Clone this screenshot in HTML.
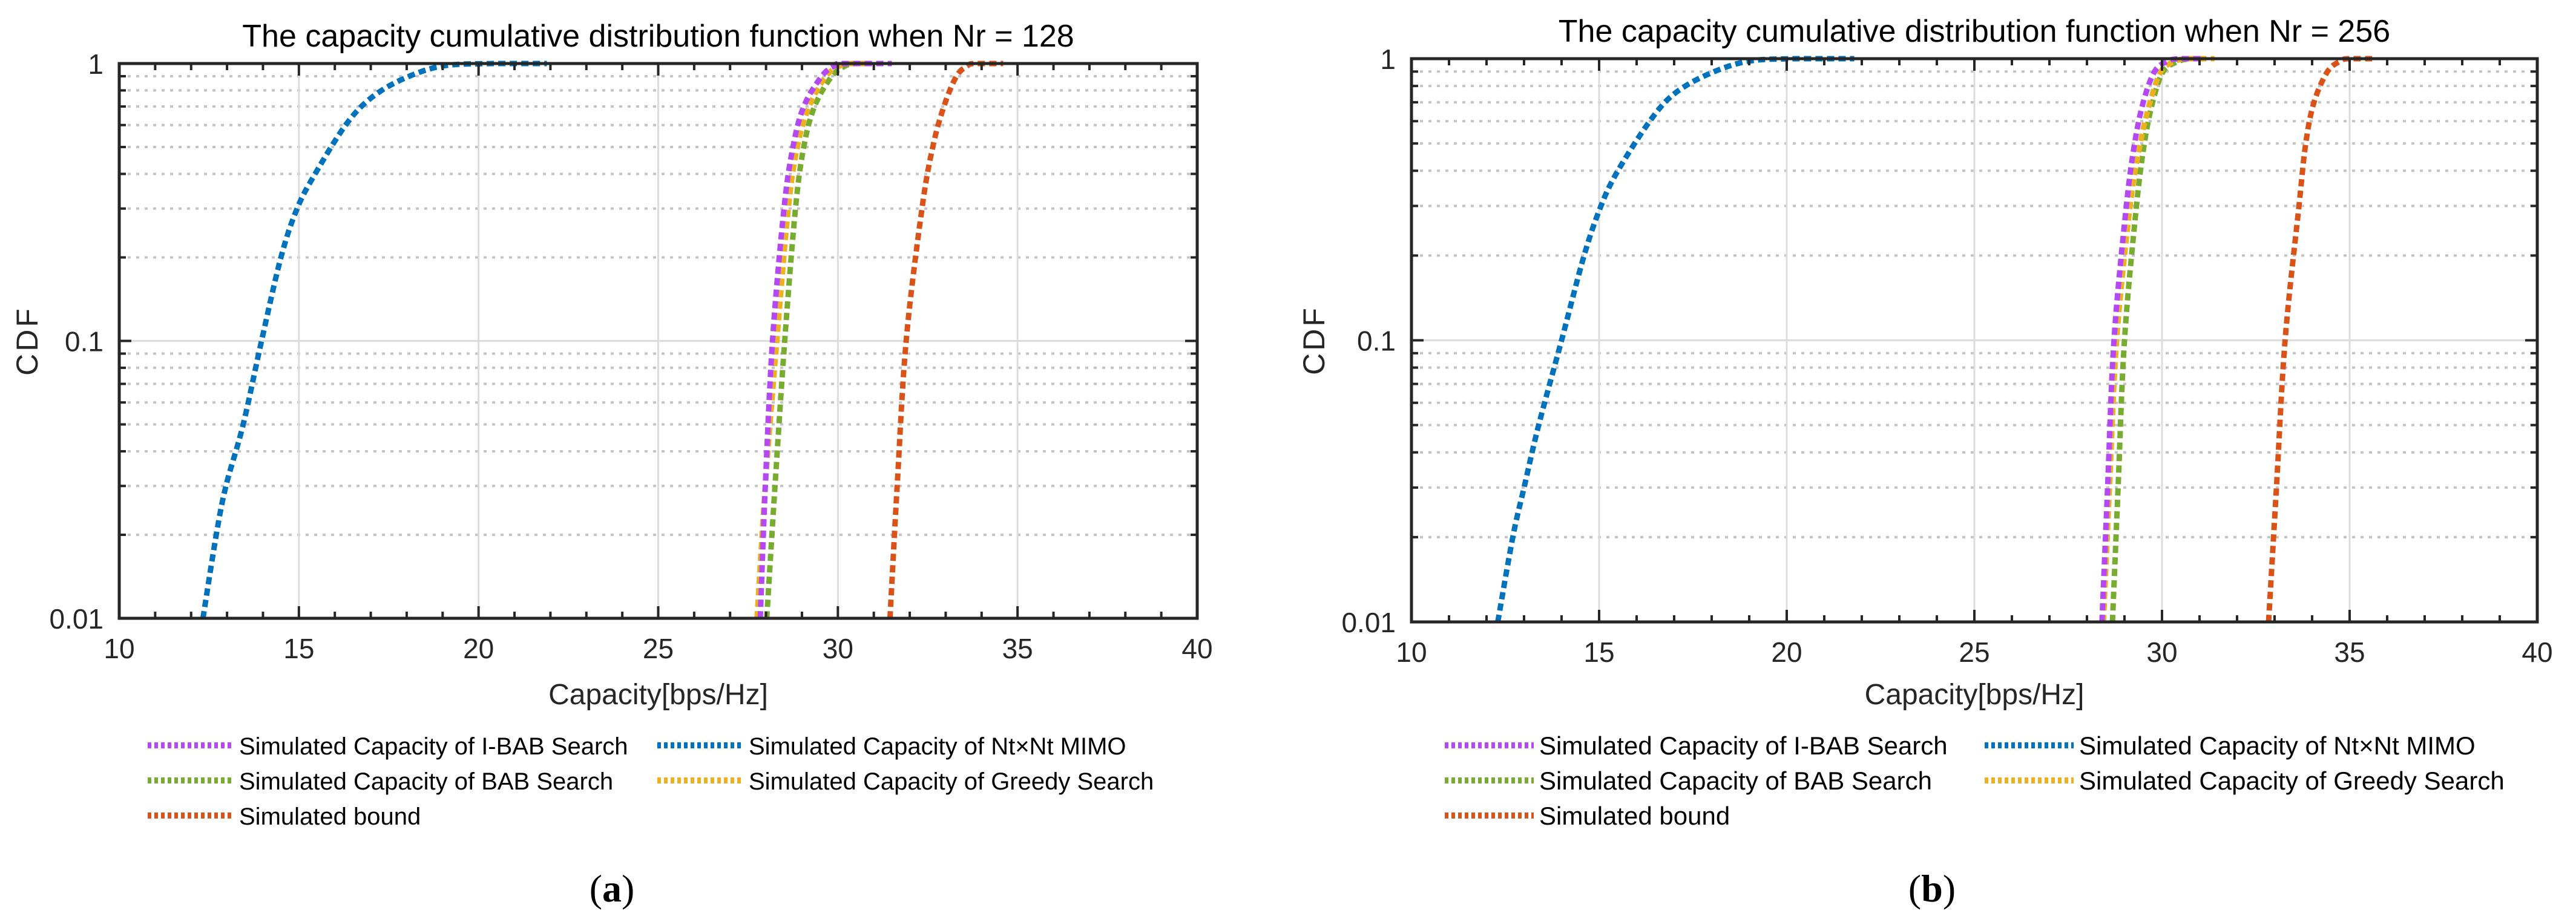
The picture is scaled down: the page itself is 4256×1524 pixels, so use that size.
<!DOCTYPE html>
<html><head><meta charset="utf-8"><style>
html,body{margin:0;padding:0;background:#fff;}
svg{display:block;font-family:"Liberation Sans",Arial,sans-serif;}
</style></head><body>
<svg id="fig" width="4256" height="1524" viewBox="0 0 4256 1524" xmlns="http://www.w3.org/2000/svg">
<rect width="4256" height="1524" fill="#fff"/>
</svg>
<script>
// ---- data ----
const xTicks = [10, 15, 20, 25, 30, 35, 40];
const yTickLabels = ["0.01", "0.1", "1"];
const yTickValues = [0.01, 0.1, 1];
const narrowLevels = [0.01, 0.03, 0.1, 0.3, 0.5, 0.7, 0.9, 0.98, 1, 1];
const blueLevels = [0.01, 0.02, 0.03, 0.05, 0.1, 0.2, 0.3, 0.4, 0.6, 0.75, 0.88, 0.98, 1, 1];
const seriesNames = ["Simulated Capacity of I-BAB Search", "Simulated Capacity of Nt\u00d7Nt MIMO", "Simulated Capacity of BAB Search", "Simulated Capacity of Greedy Search", "Simulated bound"];
// panel (a) Nr = 128
const aIBAB = [27.84, 27.98, 28.18, 28.5, 28.75, 29.05, 29.55, 29.9, 30.12, 31.5];
const aGreedy = [27.75, 27.98, 28.3, 28.62, 28.87, 29.2, 29.67, 30.05, 30.35, 30.9];
const aBAB = [28.02, 28.25, 28.52, 28.82, 29.05, 29.35, 29.83, 30.2, 30.47, 30.7];
const aBound = [31.45, 31.65, 31.9, 32.34, 32.64, 32.95, 33.3, 33.6, 33.8, 34.6];
const aMIMO = [12.33, 12.7, 12.97, 13.45, 13.96, 14.5, 14.95, 15.45, 16.3, 17.0, 17.9, 19.0, 20.4, 21.9];
// panel (b) Nr = 256
const bIBAB = [28.4, 28.55, 28.72, 29.05, 29.27, 29.5, 29.8, 30.15, 30.47, 31.1];
const bGreedy = [28.44, 28.6, 28.79, 29.15, 29.42, 29.68, 29.97, 30.35, 30.7, 31.4];
const bBAB = [28.68, 28.83, 29.0, 29.32, 29.53, 29.75, 30.03, 30.45, 30.8, 31.0];
const bBound = [32.84, 33.05, 33.28, 33.65, 33.83, 34.05, 34.41, 34.75, 34.96, 35.6];
const bMIMO = [12.3, 12.7, 13.0, 13.39, 14.0, 14.6, 15.05, 15.5, 16.35, 17.0, 17.9, 18.98, 20.3, 21.8];

const COLORS = {ibab:"#B548F5", mimo:"#0072BD", bab:"#77AC30", greedy:"#EDB120", bound:"#D95319"};
const NS = "http://www.w3.org/2000/svg";
const svg = document.getElementById('fig');
function mk(tag, attrs, parent) {
  const e = document.createElementNS(NS, tag);
  for (const k in attrs) e.setAttribute(k, attrs[k]);
  (parent || svg).appendChild(e);
  return e;
}

function panel(cfg) {
  const g = mk('g', {});
  
  
  const L = cfg.L, R = cfg.R, T = cfg.T, B = cfg.B;
  const xs = v => L + (v - 10) / 30 * (R - L);
  const ys = v => B - (Math.log10(v) + 2) / 2 * (B - T);

  for (let d = 0; d < 2; d++) {
    for (let m = 2; m <= 9; m++) {
      const y = ys(m * Math.pow(10, d - 2));
      const l = mk('line', {x1: L, x2: R, y1: y, y2: y, stroke: "#c4c4c4", "stroke-width": 4, "stroke-dasharray": "5 9"}, g);
      
      
    }
  }
  xTicks.slice(1, -1).forEach(v => {
    const l = mk('line', {x1: xs(v), x2: xs(v), y1: T, y2: B, stroke: "#dcdcdc", "stroke-width": 3}, g);
    
    
  });
  {
    const l = mk('line', {x1: L, x2: R, y1: ys(0.1), y2: ys(0.1), stroke: "#dcdcdc", "stroke-width": 3}, g);
    
    
  }

  const series = [
    {k:'bound', d: cfg.bound, lv: narrowLevels},
    {k:'mimo', d: cfg.mimo, lv: blueLevels},
    {k:'bab', d: cfg.bab, lv: narrowLevels},
    {k:'greedy', d: cfg.greedy, lv: narrowLevels},
    {k:'ibab', d: cfg.ibab, lv: narrowLevels}
  ];
  series.forEach(s => {
    const pts = s.d.map((v, i) => [xs(v), ys(s.lv[i])]);
    let dstr = "M" + pts[0][0] + "," + pts[0][1];
    const n = pts.length;
    for (let i = 0; i < n - 1; i++) {
      const p0 = pts[Math.max(0, i - 1)], p1 = pts[i], p2 = pts[i + 1], p3 = pts[Math.min(n - 1, i + 2)];
      const t = (i >= n - 2) ? 0 : 1/6;
      const c1 = [p1[0] + (p2[0] - p0[0]) * t, p1[1] + (p2[1] - p0[1]) * t];
      const c2 = [p2[0] - (p3[0] - p1[0]) * t, Math.max(Math.min(p2[1] - (p3[1] - p1[1]) * t, B), T)];
      dstr += " C" + c1[0] + "," + Math.max(c1[1], T) + " " + c2[0] + "," + c2[1] + " " + p2[0] + "," + p2[1];
    }
    const p = mk('path', {d: dstr, fill: "none", stroke: COLORS[s.k], "stroke-width": 9, "stroke-dasharray": "12 7"}, g);
    
    
  });

  for (let v = 10; v <= 40; v++) {
    const len = (v % 5 === 0) ? 20 : 11;
    const x = xs(v);
    mk('line', {x1: x, x2: x, y1: B, y2: B - len, stroke: "#262626", "stroke-width": 4}, g);
    mk('line', {x1: x, x2: x, y1: T, y2: T + len, stroke: "#262626", "stroke-width": 4}, g);
  }
  for (let d = 0; d < 2; d++) {
    for (let m = 1; m <= 9; m++) {
      const y = ys(m * Math.pow(10, d - 2));
      const len = m === 1 ? 20 : 11;
      mk('line', {x1: L, x2: L + len, y1: y, y2: y, stroke: "#262626", "stroke-width": 4}, g);
      mk('line', {x1: R, x2: R - len, y1: y, y2: y, stroke: "#262626", "stroke-width": 4}, g);
    }
  }
  const box = mk('rect', {x: L, y: T, width: R - L, height: B - T, fill: "none", stroke: "#262626", "stroke-width": 5}, g);
  
  

  xTicks.forEach(v => {
    const t = mk('text', {x: xs(v), y: B + 66, "font-size": 46, fill: "#262626", "text-anchor": "middle"}, g);
    t.textContent = v;
    
    
  });
  yTickValues.forEach((v, i) => {
    const t = mk('text', {x: L - 26, y: ys(v) + 17, "font-size": 46, fill: "#262626", "text-anchor": "end"}, g);
    t.textContent = yTickLabels[i];
    
    
  });
  const tt = mk('text', {x: (L + R) / 2, y: T - 28, "font-size": 52, fill: "#000", "text-anchor": "middle"}, g);
  tt.textContent = cfg.title;
  
  
  const xt = mk('text', {x: (L + R) / 2, y: 1164, "font-size": 48, fill: "#262626", "text-anchor": "middle"}, g);
  xt.textContent = "Capacity[bps/Hz]";
  
  
  const yt = mk('text', {x: 0, y: 0, "font-size": 50, fill: "#262626", "text-anchor": "middle", "letter-spacing": 4, transform: "translate(" + (cfg.yLabelX) + "," + ((T + B) / 2) + ") rotate(-90)"}, g);
  yt.textContent = "CDF";
  
  

  const keys = ['ibab', 'mimo', 'bab', 'greedy', 'bound'];
  const rows = [1232, 1232, 1290, 1290, 1348];
  keys.forEach((k, i) => {
    const col = i % 2;
    const lx = col === 0 ? cfg.lg1 : cfg.lg2;
    const y = rows[i];
    const ln = mk('line', {x1: lx, x2: lx + cfg.lgW, y1: y, y2: y, stroke: COLORS[k], "stroke-width": 10, "stroke-dasharray": "6 5"}, g);
    
    
    const t = mk('text', {x: lx + cfg.lgW + 9, y: y + 15, "font-size": cfg.lgF, fill: "#000"}, g);
    t.textContent = seriesNames[i];
    
    
  });
  const cap = mk('text', {x: cfg.capX, y: 1490, "font-size": 64, fill: "#000", "text-anchor": "middle", "font-family": "Liberation Serif, serif"}, g);
  cap.innerHTML = '(<tspan font-weight="bold">' + cfg.cap + '</tspan>)';
  
  
}

panel({id:'panel-a', L:197, R:1978, T:105, B:1022, title:"The capacity cumulative distribution function when Nr = 128",
  ibab:aIBAB, greedy:aGreedy, bab:aBAB, bound:aBound, mimo:aMIMO, yLabelX:62,
  lg1:244, lg2:1086, lgW:142, lgF:40, capX:1011, cap:'a'});
panel({id:'panel-b', L:2332, R:4192, T:97, B:1028, title:"The capacity cumulative distribution function when Nr = 256",
  ibab:bIBAB, greedy:bGreedy, bab:bBAB, bound:bBound, mimo:bMIMO, yLabelX:2188,
  lg1:2387, lg2:3279, lgW:147, lgF:42, capX:3192, cap:'b'});
</script>
</body></html>
